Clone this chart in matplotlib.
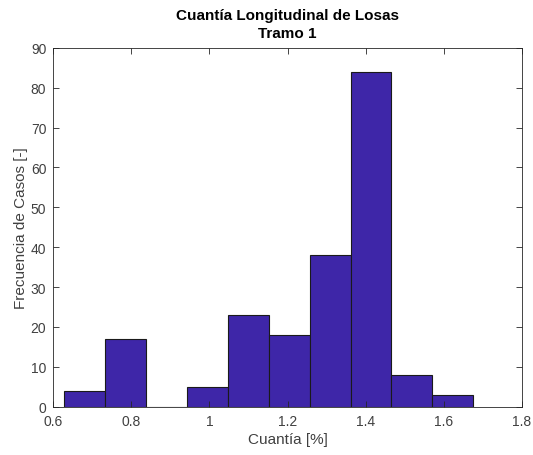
import numpy as np
import matplotlib
matplotlib.use("Agg")
import matplotlib.pyplot as plt

# Histogram data: bin edges and counts per bin
bin_edges = np.linspace(0.627, 1.676, 11)
counts = [4, 17, 0, 5, 23, 18, 38, 84, 8, 3]
x_ticks = [0.6, 0.8, 1.0, 1.2, 1.4, 1.6, 1.8]
x_tick_labels = ["0.6", "0.8", "1", "1.2", "1.4", "1.6", "1.8"]
y_ticks = list(range(0, 91, 10))

plt.rcParams["font.family"] = ["Liberation Sans", "DejaVu Sans"]
axis_gray = "#262626"
label_gray = "#404040"

fig = plt.figure(figsize=(5.33, 4.56), dpi=100)
ax = fig.add_axes([0.1, 0.106, 0.879, 0.787])

ax.bar(bin_edges[:-1], counts, width=np.diff(bin_edges), align="edge",
       color="#3E26A8", edgecolor="#1a1a1a", linewidth=0.8)

ax.set_xlim(0.6, 1.8)
ax.set_ylim(0, 90)
ax.set_xticks(x_ticks)
ax.set_xticklabels(x_tick_labels)
ax.set_yticks(y_ticks)

ax.tick_params(direction="in", top=True, right=True, length=4,
               width=0.6, colors=axis_gray, labelcolor=label_gray,
               labelsize=10, pad=5)
for s in ax.spines.values():
    s.set_color(axis_gray)
    s.set_linewidth(0.6)

ax.set_xlabel("Cuantía [%]", fontsize=11, color=label_gray, labelpad=3)
ax.set_ylabel("Frecuencia de Casos [-]", fontsize=11, color=label_gray, labelpad=2)
ax.set_title("Cuantía Longitudinal de Losas\nTramo 1", fontsize=11,
             fontweight="bold", color="black", pad=8, linespacing=1.35)

fig.savefig("out.png", dpi=100)
